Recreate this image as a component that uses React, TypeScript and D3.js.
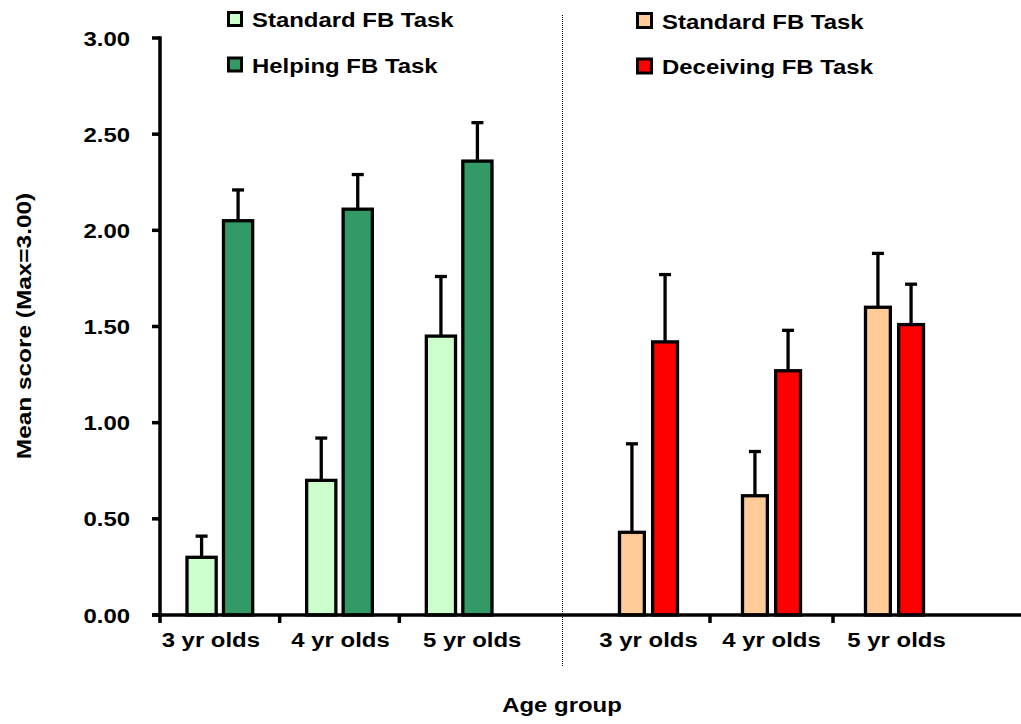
import React from "react";
import * as d3 from "d3";

const ageGroups = ["3 yr olds", "4 yr olds", "5 yr olds"];
const helpStandard = [0.3, 0.7, 1.45];
const helpStandardErr = [0.11, 0.22, 0.31];
const helping = [2.05, 2.11, 2.36];
const helpingErr = [0.16, 0.18, 0.2];
const decStandard = [0.43, 0.62, 1.6];
const decStandardErr = [0.46, 0.23, 0.28];
const deceiving = [1.42, 1.27, 1.51];
const deceivingErr = [0.35, 0.21, 0.21];
const yTicks = [0, 0.5, 1, 1.5, 2, 2.5, 3];
const legendLeft = ["Standard FB Task", "Helping FB Task"];
const legendRight = ["Standard FB Task", "Deceiving FB Task"];

const W = 1021;
const H = 724;
const FONT = "'Liberation Sans', Arial, Helvetica, sans-serif";
const SX = 1.14;
const leftLabelShift = [-9, 1, 13];

function T({ x, y, anchor = "start", size = 21, rotate = 0, sx = SX, children }: any) {
  return (
    <text
      transform={`translate(${x},${y}) rotate(${rotate}) scale(${sx},1)`}
      textAnchor={anchor}
      fontSize={size}
      fontWeight="bold"
      fontFamily={FONT}
      fill="#000"
    >
      {children}
    </text>
  );
}

export default function App() {
  const y = d3.scaleLinear().domain([0, 3]).range([615, 38]);
  const xLeft = d3.scaleBand<string>().domain(ageGroups).range([160, 519]).paddingInner(0);
  const xRight = d3.scaleBand<string>().domain(ageGroups).range([587, 956]).paddingInner(0);

  const groups = [
    { x: xLeft, margin: 27, pad: 0.2, shift: leftLabelShift, series: [
      { vals: helpStandard, errs: helpStandardErr, fill: "#CCFFCC" },
      { vals: helping, errs: helpingErr, fill: "#339966" },
    ] },
    { x: xRight, margin: 32.5, pad: 0.25, shift: [0, 0, 2], series: [
      { vals: decStandard, errs: decStandardErr, fill: "#FFCC99" },
      { vals: deceiving, errs: deceivingErr, fill: "#FF0000" },
    ] },
  ];

  const bars: React.ReactNode[] = [];
  const labels: React.ReactNode[] = [];
  groups.forEach((g, gi) => {
    ageGroups.forEach((a, ai) => {
      const x0 = g.x(a)!;
      const bw = g.x.bandwidth();
      const inner = d3.scaleBand<number>().domain([0, 1]).range([x0 + g.margin, x0 + bw - g.margin]).paddingInner(g.pad);
      g.series.forEach((s, si) => {
        const bx = inner(si)!;
        const w = inner.bandwidth();
        const v = s.vals[ai];
        const e = s.errs[ai];
        const cx = bx + w / 2;
        bars.push(
          <g key={`b${gi}-${ai}-${si}`}>
            <line x1={cx} x2={cx} y1={y(v)} y2={y(v + e)} stroke="#000" strokeWidth={3.3} />
            <line x1={cx - 6} x2={cx + 6} y1={y(v + e)} y2={y(v + e)} stroke="#000" strokeWidth={3.3} />
            <rect x={bx} y={y(v)} width={w} height={y(0) - y(v)} fill={s.fill} stroke="#000" strokeWidth={3.3} />
          </g>
        );
      });
      labels.push(
        <T key={`l${gi}-${ai}`} x={x0 + bw / 2 + g.shift[ai]} y={647} anchor="middle">
          {a}
        </T>
      );
    });
  });

  const xTickPos = [xLeft("3 yr olds")!, xLeft("4 yr olds")!, xLeft("5 yr olds")!, xRight("4 yr olds")!, xRight("5 yr olds")!];

  return (
    <svg width={W} height={H} style={{ position: "absolute", left: 0, top: 0, background: "#fff" }}>
      <rect x={0} y={0} width={W} height={H} fill="#fff" />
      <line x1={562.5} x2={562.5} y1={15} y2={666} stroke="#000" strokeWidth={1} strokeDasharray="1,1" />
      {bars}
      <line x1={160} x2={160} y1={y(3) - 1.75} y2={y(0)} stroke="#000" strokeWidth={3.5} />
      {yTicks.map((t) => (
        <g key={t}>
          <line x1={152} x2={160} y1={y(t)} y2={y(t)} stroke="#000" strokeWidth={3.5} />
          <T x={130} y={y(t) + 7.5} anchor="end">{d3.format(".2f")(t)}</T>
        </g>
      ))}
      <line x1={152} x2={1021} y1={y(0)} y2={y(0)} stroke="#000" strokeWidth={3.5} />
      {xTickPos.map((p, i) => (
        <line key={i} x1={p} x2={p} y1={y(0)} y2={y(0) + 8} stroke="#000" strokeWidth={3.5} />
      ))}
      {labels}
      <T x={562} y={712} anchor="middle">Age group</T>
      <T x={31} y={326} anchor="middle" rotate={-90} size={20} sx={1.22}>Mean score (Max=3.00)</T>
      {legendLeft.map((l, i) => (
        <g key={`ll${i}`}>
          <rect x={228.5} y={12.5 + i * 45.5} width={13} height={13} fill={i === 0 ? "#CCFFCC" : "#339966"} stroke="#000" strokeWidth={3} />
          <T x={252} y={27 + i * 45.5}>{l}</T>
        </g>
      ))}
      {legendRight.map((l, i) => (
        <g key={`lr${i}`}>
          <rect x={637.5} y={13.5 + i * 45.5} width={14} height={14} fill={i === 0 ? "#FFCC99" : "#FF0000"} stroke="#000" strokeWidth={3} />
          <T x={662} y={28.5 + i * 45.5}>{l}</T>
        </g>
      ))}
    </svg>
  );
}
